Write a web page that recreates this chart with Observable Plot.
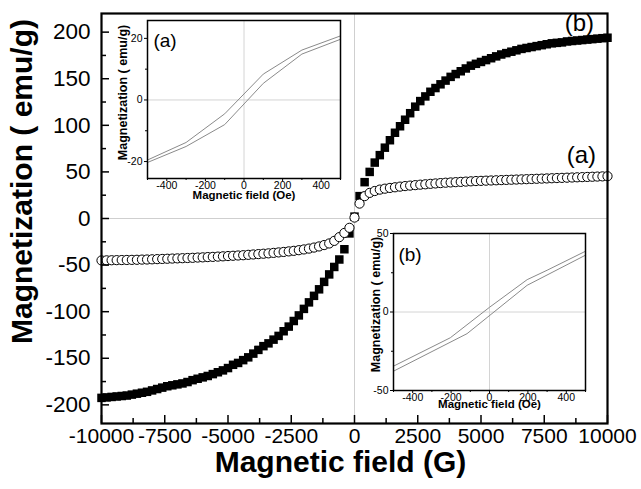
<!DOCTYPE html>
<html><head><meta charset="utf-8">
<script src="https://cdn.jsdelivr.net/npm/d3@7"></script>
<script src="https://cdn.jsdelivr.net/npm/@observablehq/plot@0.6"></script>
<style>body{margin:0;background:#fff;} #chart{width:641px;height:489px;}</style>
</head><body><div id="chart"></div>
<script>
// ---- main chart data ----
const field = [-10000,-9800,-9600,-9400,-9200,-9000,-8800,-8600,-8400,-8200,-8000,-7800,-7600,-7400,-7200,-7000,-6800,-6600,-6400,-6200,-6000,-5800,-5600,-5400,-5200,-5000,-4800,-4600,-4400,-4200,-4000,-3800,-3600,-3400,-3200,-3000,-2800,-2600,-2400,-2200,-2000,-1800,-1600,-1400,-1200,-1000,-800,-600,-400,-200,0,200,400,600,800,1000,1200,1400,1600,1800,2000,2200,2400,2600,2800,3000,3200,3400,3600,3800,4000,4200,4400,4600,4800,5000,5200,5400,5600,5800,6000,6200,6400,6600,6800,7000,7200,7400,7600,7800,8000,8200,8400,8600,8800,9000,9200,9400,9600,9800,10000];
const magB = [-192.5,-192,-191.5,-191,-190.5,-190,-189,-188,-187,-186,-184.5,-183,-181.5,-180,-179,-178,-177,-175.5,-173.5,-172,-170.5,-169,-167,-165,-163,-160.5,-157,-155,-152,-149,-145,-141,-137,-134,-130,-126,-121,-116,-110,-104,-97,-90,-83,-76,-68,-60,-52,-44,-33,-16,2,24,39,50,60,68,76,84,92,99,106,113,120,126,131,136,140,144,148,152,155,158,161,164,166,168,170,172,174,176,177.5,179,180.5,182,183,184,185,186,187,188,188.5,189,190,190.5,191,191.5,192,192.5,193,193.5,194];
const magA = [-45,-44.9,-44.8,-44.7,-44.6,-44.5,-44.4,-44.3,-44.1,-44,-43.8,-43.6,-43.4,-43.2,-43,-42.8,-42.6,-42.4,-42.2,-41.9,-41.7,-41.4,-41.2,-40.9,-40.6,-40.3,-40,-39.7,-39.4,-39,-38.6,-38.2,-37.8,-37.4,-36.9,-36.4,-35.9,-35.3,-34.7,-34,-33.2,-32.3,-31.2,-30,-28.5,-26.8,-24,-20,-15.5,-10,1,16,24,27.5,29.5,31,32,32.8,33.5,34.2,34.8,35.3,35.8,36.3,36.7,37.2,37.6,38,38.4,38.7,39,39.3,39.6,39.9,40.2,40.4,40.6,40.8,41,41.2,41.4,41.6,41.8,42,42.2,42.4,42.6,42.8,43,43.2,43.4,43.6,43.8,44,44.2,44.4,44.6,44.8,45,45.2,45.4];
const xMajorTicks = [-10000,-7500,-5000,-2500,0,2500,5000,7500,10000];
const xMinorTicks = [-8750,-6250,-3750,-1250,1250,3750,6250,8750];
const yMajorTicks = [-200,-150,-100,-50,0,50,100,150,200];
const yMinorTicks = [-175,-125,-75,-25,25,75,125,175];
const seriesLabels = ["(b)","(a)"];
const seriesLabelField = [8890, 8970];
const seriesLabelMag = [209, 68];

// ---- inset (a) data ----
const insetAFieldUp = [-500,-300,-100,100,300,500];
const insetAMagUp = [-19.5,-13.8,-4.5,8.4,16.2,20.8];
const insetAFieldDown = [-500,-300,-100,100,300,500];
const insetAMagDown = [-20.3,-15.1,-8,5.4,14.9,19.7];
// ---- inset (b) data ----
const insetBFieldUp = [-500,-204,0,196,300,500];
const insetBMagUp = [-34.5,-16.4,3,20.6,26.6,38.7];
const insetBFieldDown = [-500,-117,196,500];
const insetBMagDown = [-37.7,-13.8,17,36.2];
const insetXMajor = [-400,-200,0,200,400];
const insetXMinor = [-500,-300,-100,100,300,500];

const FONT = "'Liberation Sans', Arial, Helvetica, sans-serif";
const W = 641, H = 489, ML = 101, MR = 34, MT = 13, MB = 66;
const PH = H - MT - MB, PW = W - ML - MR;

const rowsB = field.map((f, i) => ({f, m: magB[i]}));
const rowsA = field.map((f, i) => ({f, m: magA[i]}));
const labelRows = seriesLabels.map((t, i) => ({t, f: seriesLabelField[i], m: seriesLabelMag[i]}));
const fmt = d => String(d);

const main = Plot.plot({
  width: W, height: H, marginLeft: ML, marginRight: MR, marginTop: MT, marginBottom: MB,
  style: {fontFamily: FONT, background: "white", color: "black", overflow: "visible"},
  x: {domain: [-10000, 10000]},
  y: {domain: [-220, 220]},
  marks: [
    Plot.ruleX([0], {stroke: "#cfcfcf", strokeWidth: 1}),
    Plot.ruleY([0], {stroke: "#cfcfcf", strokeWidth: 1}),
    Plot.dot(rowsB, {x: "f", y: "m", symbol: "square", r: 4.8, fill: "black", stroke: "none"}),
    Plot.dot(rowsA, {x: "f", y: "m", symbol: "circle", r: 4.6, fill: "white", stroke: "black", strokeWidth: 1}),
    Plot.text(labelRows, {x: "f", y: "m", text: "t", fontSize: 24, fill: "black"}),
    Plot.tickX(xMajorTicks, {x: d => d, insetTop: PH - 8, stroke: "black", strokeWidth: 1.5}),
    Plot.tickX(xMinorTicks, {x: d => d, insetTop: PH - 5, stroke: "black", strokeWidth: 1.5}),
    Plot.tickY(yMajorTicks, {y: d => d, insetRight: PW - 8, stroke: "black", strokeWidth: 1.5}),
    Plot.tickY(yMinorTicks, {y: d => d, insetRight: PW - 5, stroke: "black", strokeWidth: 1.5}),
    Plot.frame({stroke: "black", strokeWidth: 2.2}),
    Plot.axisX({ticks: xMajorTicks, tickSize: 0, tickPadding: 5, fontSize: 21, tickFormat: fmt, label: null}),
    Plot.axisY({ticks: yMajorTicks, tickSize: 0, tickPadding: 11, fontSize: 22.5, tickFormat: fmt, label: null}),
    Plot.text(["Magnetic field (G)"], {frameAnchor: "bottom", textAnchor: "middle", dx: -14, dy: 48, fontSize: 30, fontWeight: "bold", fill: "black"}),
    Plot.text(["Magnetization ( emu/g)"], {frameAnchor: "left", textAnchor: "middle", rotate: -90, dx: -79, dy: -37, fontSize: 30, fontWeight: "bold", fill: "black"})
  ]
});

function inset(o) {
  const up = o.fu.map((f, i) => ({f, m: o.mu[i]}));
  const dn = o.fd.map((f, i) => ({f, m: o.md[i]}));
  const svg = Plot.plot({
    width: o.w, height: o.h, marginLeft: o.ml, marginRight: o.mr, marginTop: o.mt, marginBottom: o.mb,
    style: {fontFamily: FONT, background: "transparent", color: "black", overflow: "visible"},
    x: {domain: [-500, 500]},
    y: {domain: o.yDomain},
    marks: [
      Plot.frame({fill: "white", stroke: "none"}),
      Plot.ruleX([0], {stroke: "#d4d4d4", strokeWidth: 1}),
      Plot.ruleY([0], {stroke: "#d4d4d4", strokeWidth: 1}),
      Plot.line(up, {x: "f", y: "m", stroke: "#8a8a8a", strokeWidth: 1}),
      Plot.line(dn, {x: "f", y: "m", stroke: "#8a8a8a", strokeWidth: 1}),
      Plot.axisX({ticks: insetXMajor, tickSize: 3, tickPadding: 0.5, fontSize: 10.5, tickFormat: fmt, label: null}),
      Plot.axisX({ticks: insetXMinor, tickSize: 2, tickFormat: () => "", label: null}),
      Plot.axisY({ticks: o.yMajor, tickSize: 3, tickPadding: 2, fontSize: 10.5, tickFormat: fmt, label: null}),
      Plot.axisY({ticks: o.yMinor, tickSize: 2, tickFormat: () => "", label: null}),
      Plot.frame({stroke: "black", strokeWidth: 1.5}),
      Plot.text([o.tag], {frameAnchor: "top-left", textAnchor: "middle", dx: o.tagDx, dy: o.tagDy, fontSize: 19, fill: "black"}),
      Plot.text(["Magnetic field (Oe)"], {frameAnchor: "bottom", textAnchor: "middle", dy: o.xtDy, fontSize: 11.5, fontWeight: "bold", fill: "black"}),
      Plot.text(["Magnetization ( emu/g)"], {frameAnchor: "left", textAnchor: "middle", rotate: -90, dx: o.ytDx, dy: o.ytDy, fontSize: 12.5, fontWeight: "bold", fill: "black"})
    ]
  });
  // move the inset's content into a translated group of the main svg
  const g = document.createElementNS("http://www.w3.org/2000/svg", "g");
  for (const a of Array.from(svg.attributes)) {
    if (["width", "height", "viewBox", "xmlns", "xmlns:xlink"].includes(a.name)) continue;
    g.setAttribute(a.name, a.value);
  }
  g.setAttribute("transform", `translate(${o.x},${o.y})`);
  while (svg.firstChild) g.appendChild(svg.firstChild);
  return g;
}

const insA = inset({x: 100, y: 10, w: 250, h: 200, ml: 47, mr: 10, mt: 10, mb: 32,
  fu: insetAFieldUp, mu: insetAMagUp, fd: insetAFieldDown, md: insetAMagDown,
  yDomain: [-25.5, 25.8], yMajor: [-20, 0, 20], yMinor: [-10, 10],
  tag: "(a)", tagDx: 17.5, tagDy: 13, xtDy: 20, ytDx: -24.5, ytDy: -7});
const insB = inset({x: 350, y: 220, w: 250, h: 195, ml: 43, mr: 15, mt: 13, mb: 25,
  fu: insetBFieldUp, mu: insetBMagUp, fd: insetBFieldDown, md: insetBMagDown,
  yDomain: [-50, 50], yMajor: [-50, 0, 50], yMinor: [-25, 25],
  tag: "(b)", tagDx: 16.5, tagDy: 13.5, xtDy: 17, ytDx: -18, ytDy: -7.5});

main.appendChild(insA);
main.appendChild(insB);
document.getElementById("chart").appendChild(main);
</script>
</body></html>
